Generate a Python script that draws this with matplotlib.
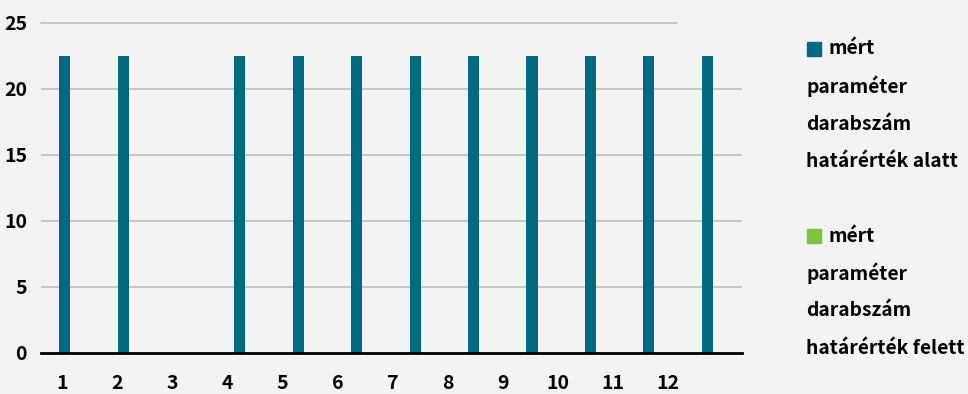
import numpy as np
import matplotlib.pyplot as plt

plt.rcParams['font.family'] = ['Noto Sans CJK SC', 'DejaVu Sans']
plt.rcParams['font.weight'] = 'bold'

# mért paraméterek darabszáma mintavételenként
minta = list(range(1, 13))
alatt = [22.5, 22.5, 0, 22.5, 22.5, 22.5, 22.5, 22.5, 22.5, 22.5, 22.5, 22.5]
felett = [0] * 12
y_ticks = [0, 5, 10, 15, 20, 25]

KEK = '#006b80'
ZOLD = '#7dc242'
HATTER = '#f2f3f2'
FS = 13.9

fig = plt.figure(figsize=(9.68, 3.94), dpi=100, facecolor=HATTER)
ax = fig.add_axes([41 / 968, 1 - 353 / 394, 701 / 968, 330 / 394])
ax.set_facecolor(HATTER)

x = np.arange(len(minta))
w = 0.19
ax.bar(x - w / 2, alatt, width=w, color=KEK, zorder=3)
ax.bar(x + w / 2, felett, width=w, color=ZOLD, zorder=3)

ax.set_xlim(-0.5, len(minta) - 0.5)
ax.set_ylim(0, 25)

# vízszintes rácsvonalak, a legfelső rövidebb
for v in y_ticks[1:-1]:
    ax.axhline(v, color='#bfbfbf', lw=1.2, zorder=1)
ax.axhline(y_ticks[-1], xmax=0.907, color='#bfbfbf', lw=1.2, zorder=1, clip_on=False)
ax.axhline(0, color='black', lw=2, zorder=4, clip_on=False)

for s in ax.spines.values():
    s.set_visible(False)

ax.set_yticks(y_ticks)
ax.set_yticklabels([str(v) for v in y_ticks], fontsize=14, fontweight='bold')
ax.tick_params(axis='y', length=0, pad=10)

# a kategóriafeliratok sűrűbben állnak, mint az oszlopok
ax.set_xticks(np.linspace(-0.14, 10.23, len(minta)))
ax.set_xticklabels([str(m) for m in minta], fontsize=14, fontweight='bold')
ax.tick_params(axis='x', length=0, pad=15)

# jelmagyarázat
leg = [(KEK, 'mért', ['paraméter', 'darabszám', 'határérték alatt'], 49),
       (ZOLD, 'mért', ['paraméter', 'darabszám', 'határérték felett'], 236)]
for szin, elso, tobbi, y0 in leg:
    fig.patches.append(plt.Rectangle((807 / 968, 1 - (y0 + 7) / 394), 14 / 968, 14 / 394,
                                     transform=fig.transFigure, color=szin, figure=fig))
    fig.text(829 / 968, 1 - y0 / 394, elso, fontsize=FS, fontweight='bold', va='center')
    for i, sor in enumerate(tobbi):
        fig.text(806 / 968, 1 - (y0 + 37.5 * (i + 1)) / 394, sor, fontsize=FS,
                 fontweight='bold', va='center')

fig.savefig('out.png', dpi=100, facecolor=HATTER)
